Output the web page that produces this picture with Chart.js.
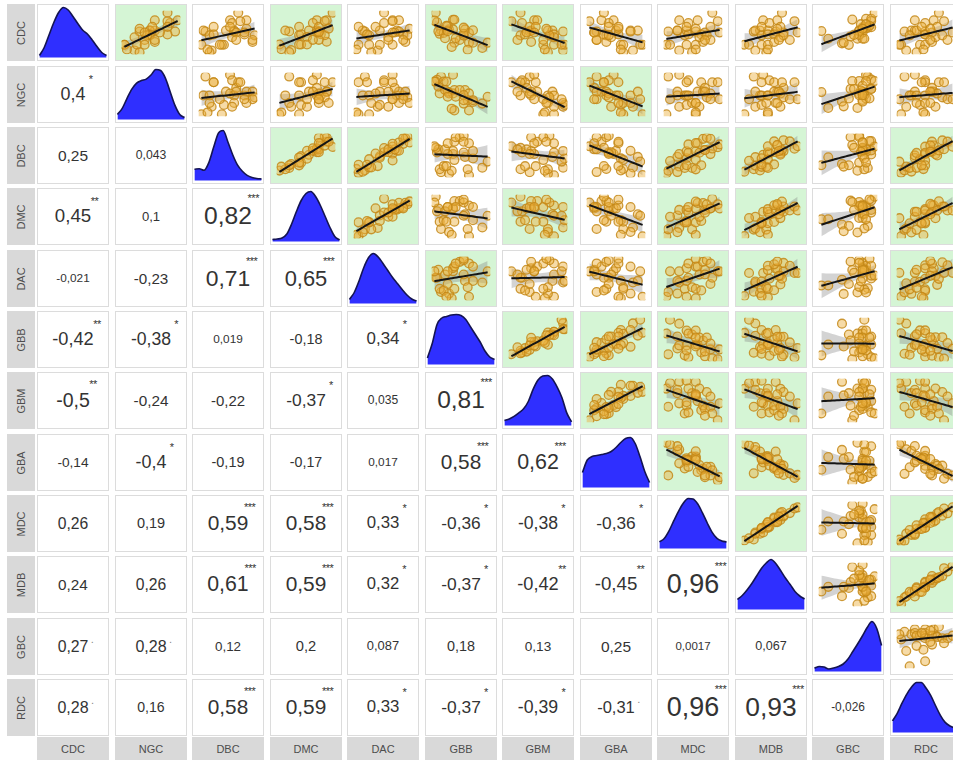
<!DOCTYPE html>
<html>
<head>
<meta charset="utf-8">
<script src="https://cdn.jsdelivr.net/npm/chart.js@4.4.0/dist/chart.umd.min.js"></script>
<style>
  body { margin: 0; background: #fff; font-family: "Liberation Sans", Arial, sans-serif; }
  #grid { position: relative; width: 953px; height: 760px; overflow: hidden; background: #fff; }
  .cell { position: absolute; box-sizing: border-box; border: 1px solid #dcdcdc; background: #fff; overflow: hidden; }
  .cell canvas { position: absolute; left: 0; top: 0; }
  .strip { position: absolute; background: #d9d9d9; color: #4d4d4d; font-size: 11px; display: flex; align-items: center; justify-content: center; }
  .strip.left span { transform: rotate(-90deg); white-space: nowrap; }
  .cor { display: flex; align-items: center; justify-content: center; color: #333; }
  .num { position: relative; line-height: 1; white-space: nowrap; }
  .sig { position: absolute; font-size: 11px; line-height: 1; white-space: nowrap; letter-spacing: -0.5px; color: #333; }
</style>
</head>
<body>
<div id="grid"></div>
<script>
const vars = ['CDC', 'NGC', 'DBC', 'DMC', 'DAC', 'GBB', 'GBM', 'GBA', 'MDC', 'MDB', 'GBC', 'RDC'];

// observations (estimated from the scatter panels)
const CDC = [-1.1, 0.3, -1.7, 0.4, 0.4, -0.1, 1.5, -1.1, 0.4, -1.9, 1.2, 0.0, -1.1, 0.3, 0.0, 1.5, -0.8, -0.3, 0.2, 0.8, -0.1, 2.3, -0.6, 1.4, -1.1, -1.6, 0.6, 0.8, -0.6, 0.2];
const NGC = [-1.0, 1.0, -0.6, 0.0, 0.2, 0.0, 1.1, -0.5, 0.0, -0.4, 0.8, 0.0, -1.0, -0.4, 0.7, 0.2, 0.2, -0.6, 0.4, 0.1, -0.1, 0.7, -0.2, 0.7, -0.2, -0.9, -0.4, 0.7, 0.2, -0.2];
const DBC = [-1.3, -1.1, -0.8, -1.2, -0.1, -0.9, 0.1, -0.2, 0.3, -0.9, 0.2, 0.8, -0.3, 0.3, -0.7, 0.9, 1.2, 0.2, 0.4, 0.1, 1.3, 0.5, 1.2, 0.6, -0.4, -1.0, 0.9, -0.7, 0.4, 0.8];
const DMC = [-1.5, -1.0, -0.9, -1.2, 0.0, -0.5, 0.4, -0.4, 0.4, -1.0, 0.2, 0.6, -0.5, 0.5, -0.4, 0.9, 0.9, -0.1, 0.4, 0.5, 0.8, 1.2, 0.5, 0.8, -0.1, -1.4, 1.0, -0.5, 0.2, 0.5];
const DAC = [-1.2, -0.9, -0.3, -1.0, -0.2, -0.7, 0.4, -0.2, 0.6, -0.6, 0.0, 0.9, -0.7, 0.7, -0.8, 0.7, 1.0, 0.2, 0.5, -0.4, 1.1, 0.0, 0.9, 0.4, 0.4, -1.3, 1.2, -1.2, 0.2, 0.4];
const GBB = [1.0, -1.1, 2.0, -0.5, 0.7, -1.2, -0.2, 1.3, -0.2, 0.9, -1.4, 1.0, -0.1, 1.3, -0.9, -0.1, 0.3, 0.6, -1.3, -0.6, 0.6, -1.5, 0.0, -1.6, 2.4, -0.3, 0.6, -0.7, -0.8, -0.6];
const GBM = [0.9, -0.7, 1.5, 0.5, 0.8, -1.3, -0.4, 1.6, -0.6, 0.5, -1.2, 0.9, 0.2, 1.5, -1.0, -0.2, -0.6, 0.9, -0.9, -0.7, 0.6, -1.3, 0.2, -1.9, 1.4, 0.3, 0.4, -0.3, -1.5, -0.4];
const GBA = [1.2, -0.7, 0.8, 0.7, 1.0, -0.3, 0.0, 0.3, 0.1, 0.4, -0.2, 0.2, 0.4, 0.7, -0.4, -0.5, -0.3, -0.1, -0.8, -0.2, -0.2, -0.4, -0.7, -1.0, 1.1, 0.3, 0.2, 0.2, -0.7, -0.8];
const MDC = [-1.4, -1.3, -0.7, -0.8, -0.8, -0.4, -0.7, -0.3, -0.3, 0.0, -0.2, -0.2, 0.2, 0.2, 0.5, 0.3, 0.6, 0.4, 0.7, 1.0, 0.8, 1.1, 1.0, 1.4, -1.2, 0.2, 0.2, -0.3, 0.7, 1.5];
const MDB = [-1.6, -1.0, -0.9, -0.6, -0.9, -0.5, -0.4, -0.5, -0.1, -0.2, 0.0, -0.1, -0.1, 0.4, 0.3, 0.5, 0.3, 0.7, 0.9, 0.7, 0.9, 0.8, 1.3, 1.6, -1.3, -0.1, 0.5, -0.5, 0.6, 1.8];
const GBC = [0.6, 1.2, -0.3, 1.0, 1.4, -1.5, 1.1, 0.9, 0.9, 0.1, 1.4, 0.9, -1.1, 1.1, 0.7, 1.4, 0.2, 0.9, 0.9, 0.8, 0.7, 1.6, 0.7, 0.3, 1.0, -0.2, 1.3, 1.1, 0.4, 0.9];
const RDC = [-1.3, -1.1, -1.0, -0.7, -0.5, -0.8, -0.5, -0.2, -0.4, -0.4, 0.1, 0.1, 0.1, 0.1, 0.1, 0.6, 0.5, 0.7, 0.5, 0.8, 1.1, 0.9, 1.4, 1.2, -1.4, 0.0, 0.4, -0.1, 0.4, 1.7];
const columns = [CDC, NGC, DBC, DMC, DAC, GBB, GBM, GBA, MDC, MDB, GBC, RDC];

// printed correlations (lower triangle, row by row) and their significance marks
const corr = [
  [],
  [0.4],
  [0.25, 0.043],
  [0.45, 0.1, 0.82],
  [-0.021, -0.23, 0.71, 0.65],
  [-0.42, -0.38, 0.019, -0.18, 0.34],
  [-0.5, -0.24, -0.22, -0.37, 0.035, 0.81],
  [-0.14, -0.4, -0.19, -0.17, 0.017, 0.58, 0.62],
  [0.26, 0.19, 0.59, 0.58, 0.33, -0.36, -0.38, -0.36],
  [0.24, 0.26, 0.61, 0.59, 0.32, -0.37, -0.42, -0.45, 0.96],
  [0.27, 0.28, 0.12, 0.2, 0.087, 0.18, 0.13, 0.25, 0.0017, 0.067],
  [0.28, 0.16, 0.58, 0.59, 0.33, -0.37, -0.39, -0.31, 0.96, 0.93, -0.026]
];
const stars = [
  [],
  ['*'],
  ['', ''],
  ['**', '', '***'],
  ['', '', '***', '***'],
  ['**', '*', '', '', '*'],
  ['**', '', '', '*', '', '***'],
  ['', '*', '', '', '', '***', '***'],
  ['', '', '***', '***', '*', '*', '*', '*'],
  ['', '', '***', '***', '*', '*', '**', '**', '***'],
  ['.', '.', '', '', '', '', '', '', '', ''],
  ['.', '', '***', '***', '*', '*', '*', '.', '***', '***', '']
];

// density heights (15 even steps across each panel)
const dCDC = [0.04, 0.2, 0.45, 0.7, 0.9, 1.0, 0.95, 0.82, 0.68, 0.55, 0.47, 0.35, 0.22, 0.1, 0.04];
const dNGC = [0.1, 0.22, 0.42, 0.6, 0.72, 0.77, 0.8, 0.88, 0.99, 0.97, 0.82, 0.55, 0.28, 0.1, 0.04];
const dDBC = [0.22, 0.23, 0.2, 0.35, 0.65, 0.93, 0.98, 0.75, 0.5, 0.3, 0.18, 0.1, 0.06, 0.04, 0.03];
const dDMC = [0.04, 0.05, 0.07, 0.15, 0.35, 0.6, 0.82, 0.96, 1.0, 0.9, 0.72, 0.5, 0.28, 0.1, 0.03];
const dDAC = [0.08, 0.22, 0.45, 0.72, 0.92, 1.0, 0.93, 0.8, 0.66, 0.52, 0.4, 0.28, 0.17, 0.09, 0.05];
const dGBB = [0.13, 0.42, 0.8, 0.93, 0.96, 0.99, 1.0, 0.98, 0.9, 0.75, 0.6, 0.45, 0.27, 0.15, 0.1];
const dGBM = [0.1, 0.13, 0.18, 0.25, 0.33, 0.48, 0.72, 0.9, 0.98, 0.99, 0.92, 0.76, 0.55, 0.25, 0.07];
const dGBA = [0.3, 0.55, 0.62, 0.64, 0.66, 0.68, 0.72, 0.8, 0.9, 0.98, 1.0, 0.88, 0.62, 0.32, 0.1];
const dMDC = [0.13, 0.2, 0.35, 0.55, 0.74, 0.9, 0.99, 0.98, 0.88, 0.7, 0.5, 0.32, 0.2, 0.15, 0.13];
const dMDB = [0.2, 0.28, 0.39, 0.52, 0.67, 0.82, 0.93, 1.0, 0.92, 0.78, 0.63, 0.5, 0.36, 0.27, 0.21];
const dGBC = [0.07, 0.1, 0.09, 0.05, 0.07, 0.1, 0.15, 0.25, 0.4, 0.55, 0.71, 0.88, 1.0, 0.86, 0.52];
const dRDC = [0.23, 0.38, 0.58, 0.76, 0.9, 0.99, 0.99, 0.88, 0.73, 0.53, 0.34, 0.2, 0.13, 0.09, 0.07];
const densities = [dCDC, dNGC, dDBC, dDMC, dDAC, dGBB, dGBM, dGBA, dMDC, dMDB, dGBC, dRDC];

const grid = document.getElementById('grid');
const colX = j => Math.round(37 + j * 77.5);
const rowY = i => Math.round(4.3 + i * 61.35);
const W = 72, H = 57;

const commonOpts = (xr, yr) => ({
  responsive: false,
  animation: false,
  events: [],
  layout: { padding: 0 },
  plugins: { legend: { display: false }, tooltip: { enabled: false } },
  scales: {
    x: { type: 'linear', display: false, min: xr[0], max: xr[1] },
    y: { type: 'linear', display: false, min: yr[0], max: yr[1] }
  }
});

function makeCell(i, j, bg) {
  const div = document.createElement('div');
  div.className = 'cell';
  div.style.left = colX(j) + 'px';
  div.style.top = rowY(i) + 'px';
  div.style.width = W + 'px';
  div.style.height = H + 'px';
  if (bg) div.style.background = bg;
  grid.appendChild(div);
  return div;
}

function addCanvas(div) {
  const c = document.createElement('canvas');
  c.width = W - 2;
  c.height = H - 2;
  c.style.width = (W - 2) + 'px';
  c.style.height = (H - 2) + 'px';
  div.appendChild(c);
  return c;
}

function expand(lo, hi, f) {
  const d = (hi - lo) * f;
  return [lo - d, hi + d];
}

function fit(xs, ys) {
  const n = xs.length;
  const mx = xs.reduce((s, v) => s + v, 0) / n;
  const my = ys.reduce((s, v) => s + v, 0) / n;
  let sxx = 0, sxy = 0;
  for (let k = 0; k < n; k++) {
    sxx += (xs[k] - mx) ** 2;
    sxy += (xs[k] - mx) * (ys[k] - my);
  }
  const b = sxy / sxx, a = my - b * mx;
  let sse = 0;
  for (let k = 0; k < n; k++) sse += (ys[k] - a - b * xs[k]) ** 2;
  return { a, b, mx, sxx, n, s: Math.sqrt(sse / (n - 2)) };
}

// upper triangle: scatter + lm line with 95% band
function drawScatter(i, j) {
  const xs = columns[j], ys = columns[i];
  const green = stars[j][i] !== '' && stars[j][i] !== '.';
  const div = makeCell(i, j, green ? '#d5f5d5' : '#fff');
  const m = fit(xs, ys);
  const xmin = Math.min(...xs), xmax = Math.max(...xs);
  const steps = 24;
  const line = [], up = [], lo = [];
  for (let k = 0; k <= steps; k++) {
    const x = xmin + (xmax - xmin) * k / steps;
    const yh = m.a + m.b * x;
    const se = m.s * Math.sqrt(1 / m.n + (x - m.mx) ** 2 / m.sxx);
    line.push({ x, y: yh });
    up.push({ x, y: yh + 2.048 * se });
    lo.push({ x, y: yh - 2.048 * se });
  }
  const allY = ys.concat(up.map(p => p.y), lo.map(p => p.y));
  const xr = expand(xmin, xmax, 0.05);
  const yr = expand(Math.min(...allY), Math.max(...allY), 0.05);
  new Chart(addCanvas(div), {
    type: 'scatter',
    data: {
      datasets: [
        { type: 'line', data: line, borderColor: '#151515', borderWidth: 2, pointRadius: 0, fill: false },
        { data: xs.map((x, k) => ({ x, y: ys[k] })), backgroundColor: 'rgba(236,176,60,0.45)', borderColor: 'rgba(196,136,24,0.85)', borderWidth: 1.3, pointRadius: 4.4 },
        { type: 'line', data: up, borderWidth: 0, pointRadius: 0, fill: '+1', backgroundColor: 'rgba(130,130,130,0.35)' },
        { type: 'line', data: lo, borderWidth: 0, pointRadius: 0, fill: false }
      ]
    },
    options: commonOpts(xr, yr)
  });
}

// diagonal: density
function drawDensity(i) {
  const div = makeCell(i, i);
  const d = densities[i];
  const top = Math.max(...d);
  new Chart(addCanvas(div), {
    type: 'line',
    data: {
      datasets: [{
        data: d.map((v, k) => ({ x: k, y: v })),
        borderColor: '#141452',
        borderWidth: 1.6,
        backgroundColor: '#2f2fff',
        fill: 'origin',
        pointRadius: 0,
        cubicInterpolationMode: 'monotone'
      }]
    },
    options: commonOpts([-0.3, d.length - 0.7], [-0.05 * top, 1.05 * top])
  });
}

// lower triangle: correlation text
function drawText(i, j) {
  const div = makeCell(i, j);
  div.classList.add('cor');
  const r = corr[i][j];
  const fs = 11.5 + 16 * Math.abs(r);
  const num = document.createElement('span');
  num.className = 'num';
  num.style.fontSize = fs.toFixed(1) + 'px';
  num.textContent = String(r).replace('.', ',');
  const st = stars[i][j];
  if (st) {
    const s = document.createElement('span');
    s.className = 'sig';
    s.textContent = st;
    let top = 0.13 * fs - 14;
    if (st === '.') { top += 7; s.style.right = '-5px'; s.style.color = '#888'; }
    else s.style.right = '-7px';
    s.style.top = top.toFixed(1) + 'px';
    num.appendChild(s);
  }
  div.appendChild(num);
}

vars.forEach((v, i) => {
  vars.forEach((w, j) => {
    if (i === j) drawDensity(i);
    else if (j > i) drawScatter(i, j);
    else drawText(i, j);
  });
  const ls = document.createElement('div');
  ls.className = 'strip left';
  ls.style.left = '7px';
  ls.style.top = rowY(i) + 'px';
  ls.style.width = '28px';
  ls.style.height = H + 'px';
  ls.innerHTML = '<span>' + v + '</span>';
  grid.appendChild(ls);
  const bs = document.createElement('div');
  bs.className = 'strip';
  bs.style.left = colX(i) + 'px';
  bs.style.top = '737px';
  bs.style.width = W + 'px';
  bs.style.height = '24px';
  bs.textContent = v;
  grid.appendChild(bs);
});
</script>
</body>
</html>
